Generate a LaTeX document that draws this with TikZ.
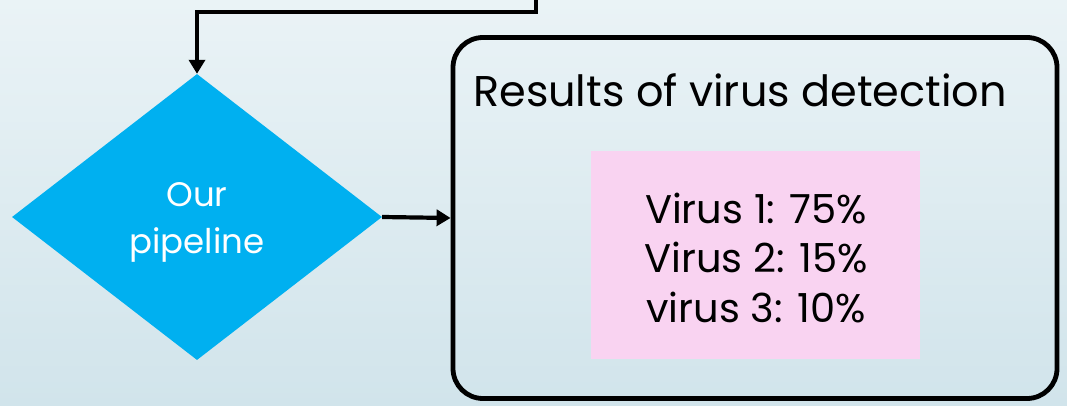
\documentclass[tikz,border=0pt]{standalone}
\usepackage{fontspec}
\setmainfont{Poppins}
\usetikzlibrary{shapes.geometric,arrows.meta}
\definecolor{bgtop}{HTML}{EAF3F6}
\definecolor{bgbot}{HTML}{D1E4EB}
\definecolor{diablue}{HTML}{00B0F0}
\definecolor{pinkbox}{HTML}{F9D3F1}
\tikzset{
  conn/.style={line width=4.2pt,-{Triangle[length=14pt,width=16pt]}},
  decision/.style={diamond,fill=diablue,inner sep=0pt,minimum width=370pt,minimum height=286pt},
  pipelabel/.style={text=white,align=center,inner sep=0pt,anchor=base,font=\fontsize{34}{47}\selectfont},
  resultbox/.style={draw=black,line width=4.8pt,rounded corners=30pt,minimum width=604pt,minimum height=361pt,inner sep=0pt},
  pinkpanel/.style={fill=pinkbox,minimum width=329pt,minimum height=208pt,inner sep=0pt},
  paneltextstyle/.style={align=center,inner sep=0pt,anchor=base,font=\fontsize{40}{49.5}\selectfont},
  titletext/.style={anchor=base west,inner sep=0pt,font=\fontsize{43}{50}\selectfont}
}
\begin{document}
\begin{tikzpicture}[x=1pt,y=-1pt]
\shade[top color=bgtop,bottom color=bgbot] (0,0) rectangle (1067,406);
\useasboundingbox (0,0) rectangle (1067,406);
\node[decision] (pipe) at (197,217) {};
\node[pipelabel] (pipetext) at (197,253) {Our\\pipeline};
\node[resultbox] (box) at (755,218) {};
\node[titletext] (title) at (473,107) {Results of virus detection};
\node[pinkpanel] (panel) at (755.5,255) {};
\node[paneltextstyle] (paneltext) at (756,322) {Virus 1: 75\%\\Virus 2: 15\%\\virus 3: 10\%};
\coordinate (src) at (536,-3);
\draw[conn] (src) -- (536,12) -| (pipe.north);
\draw[conn] (pipe.east) -- (box.west);
\end{tikzpicture}
\end{document}
